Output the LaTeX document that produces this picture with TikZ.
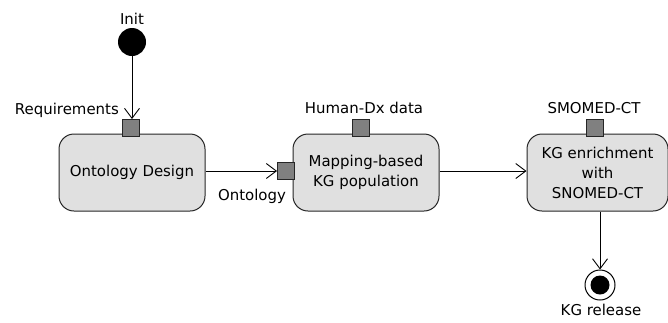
\documentclass[tikz,border=0pt]{standalone}
\usepackage{fontspec}
\setmainfont{DejaVu Sans}
\usetikzlibrary{arrows.meta}
\definecolor{boxfill}{HTML}{E0E0E0}
\definecolor{pinfill}{HTML}{808080}
\begin{document}
\begin{tikzpicture}[x=1bp,y=-1bp,
  font=\fontsize{15}{20}\selectfont,
  action/.style={draw=black!85, line width=1bp, fill=boxfill, rounded corners=15bp,
    minimum width=146bp, minimum height=77bp, align=center, inner sep=2bp},
  pinbox/.style={draw=black!85, line width=0.9bp, fill=pinfill, minimum size=17bp, inner sep=0pt},
  lbl/.style={inner sep=1bp},
  flow/.style={line width=0.9bp, -{Straight Barb[length=10bp,width=15bp,line width=0.9bp]}}]
\useasboundingbox (0,0) rectangle (668,322);
% initial node
\node[lbl] (initlbl) at (132,19) {Init};
\node[circle, fill=black, minimum size=28bp, inner sep=0pt] (init) at (132,42) {};
% actions
\node[action] (design) at (132,172.5) {Ontology Design};
\node[action] (mapping) at (366,172.5) {Mapping-based\\KG population};
\node[action, minimum width=141bp] (enrich) at (597.5,172.5) {KG enrichment\\with\\SNOMED-CT};
% pins
\node[pinbox] (reqpin) at (130.5,128) {};
\node[lbl, anchor=east] (reqlbl) at (120,110) {Requirements};
\node[pinbox] (ontpin) at (286,171) {};
\node[lbl] (ontlbl) at (252,196) {Ontology};
\node[pinbox] (hdxpin) at (360.5,128) {};
\node[lbl] (hdxlbl) at (364,108) {Human-Dx data};
\node[pinbox] (snopin) at (595,128) {};
\node[lbl] (snolbl) at (594,108) {SMOMED-CT};
% final node
\node[circle, draw=black, line width=1bp, fill=white, minimum size=30bp, inner sep=0pt] (final) at (600,285) {};
\node[circle, fill=black, minimum size=19bp, inner sep=0pt] (finaldot) at (final.center) {};
\node[lbl] (finlbl) at (601,310) {KG release};
% flows
\draw[flow] (init) -- (init |- reqpin.north);
\draw[flow] (design.east |- ontpin) -- (ontpin.west);
\draw[flow] (mapping.east |- ontpin) -- (enrich.west |- ontpin);
\draw[flow] (final.north |- enrich.south) -- (final.north);
\end{tikzpicture}
\end{document}
